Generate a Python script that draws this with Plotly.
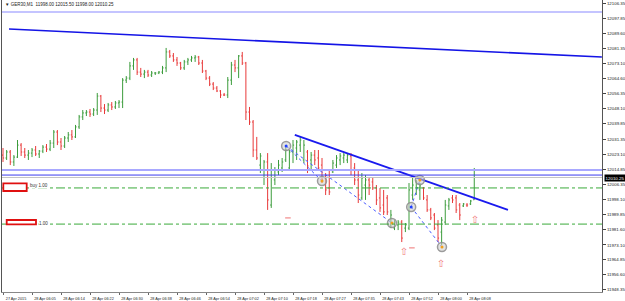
import plotly.graph_objects as go

# ---------------- data ----------------
title_text = "▼ GER30,M1  11998.00 12015.50 11998.00 12010.25"
last_price = 12010.25

tick_idx = [0, 8, 16, 24, 32, 40, 48, 56, 64, 72, 80, 88, 96, 104, 112, 120, 128]
tick_lbl = ["27 Apr 2015", "28 Apr 06:05", "28 Apr 06:14", "28 Apr 06:22", "28 Apr 06:30",
            "28 Apr 06:38", "28 Apr 06:46", "28 Apr 06:54", "28 Apr 07:02", "28 Apr 07:10",
            "28 Apr 07:18", "28 Apr 07:27", "28 Apr 07:35", "28 Apr 07:43", "28 Apr 07:52",
            "28 Apr 08:00", "28 Apr 08:08"]

price_ticks = [12106.35, 12097.85, 12089.60, 12081.35, 12073.10, 12064.60, 12056.35,
               12048.10, 12039.85, 12031.35, 12023.10, 12014.85, 12006.35, 11998.10,
               11989.85, 11981.60, 11973.10, 11964.85, 11956.60, 11948.35]

bar_open = [12022.6, 12021.0, 12024.3, 12018.8, 12021.5, 12028.1, 12024.3, 12022.6, 12023.7, 12025.4,
            12023.2, 12024.8, 12027.0, 12025.9, 12029.2, 12035.3, 12029.8, 12027.6, 12032.0, 12033.7,
            12032.6, 12038.1, 12043.6, 12045.8, 12046.3, 12045.2, 12047.4, 12055.1, 12048.5, 12047.4,
            12050.2, 12049.1, 12051.3, 12051.8, 12063.9, 12065.0, 12071.7, 12075.0, 12068.3, 12067.2,
            12068.3, 12066.7, 12067.8, 12067.8, 12068.3, 12070.6, 12079.4, 12077.2, 12075.0, 12073.3,
            12070.6, 12073.9, 12075.0, 12076.1, 12076.6, 12073.3, 12068.9, 12065.0, 12061.7, 12059.5,
            12057.9, 12055.7, 12055.7, 12063.9, 12072.2, 12070.6, 12077.2, 12073.3, 12046.3, 12040.8,
            12025.4, 12017.1, 12014.4, 12018.8, 11995.1, 12008.9, 12013.3, 12015.5, 12019.9, 12015.5,
            12024.3, 12026.5, 12028.1, 12019.9, 12024.3, 12019.9, 12022.6, 12021.0, 12017.1, 12010.0,
            12004.5, 12013.3, 12017.1, 12019.9, 12021.0, 12019.9, 12022.1, 12015.5, 12008.9, 11999.0,
            12006.1, 12008.9, 12007.8, 12004.5, 11999.0, 11995.1, 11999.0, 11984.1, 11982.4, 11984.1,
            11985.7, 11982.4, 11982.4, 12000.6, 12004.5, 12003.4, 12004.5, 11997.9, 11992.4, 11989.6,
            11984.1, 11980.2, 11985.7, 11994.6, 11999.0, 11999.0, 11995.1, 11994.6, 11995.1, 11995.7,
            11998.0]
bar_high = [12026.5, 12025.4, 12025.4, 12022.6, 12030.9, 12029.2, 12026.5, 12025.4, 12026.5, 12027.6,
            12025.4, 12028.1, 12028.7, 12030.9, 12036.4, 12036.4, 12032.0, 12033.1, 12035.3, 12036.4,
            12039.2, 12044.7, 12047.4, 12047.4, 12048.0, 12048.5, 12056.8, 12055.7, 12050.7, 12051.3,
            12051.8, 12052.4, 12052.9, 12065.0, 12066.1, 12073.9, 12076.1, 12076.1, 12070.6, 12069.5,
            12069.5, 12068.9, 12068.3, 12068.9, 12071.7, 12081.6, 12080.5, 12078.8, 12076.6, 12073.9,
            12075.0, 12076.1, 12077.2, 12077.7, 12077.2, 12075.0, 12069.5, 12066.1, 12062.8, 12060.6,
            12058.4, 12056.8, 12065.6, 12073.9, 12075.0, 12077.7, 12079.4, 12073.9, 12049.1, 12041.9,
            12032.6, 12023.7, 12019.9, 12023.7, 12018.2, 12016.0, 12019.9, 12021.0, 12027.0, 12025.4,
            12030.9, 12030.9, 12032.6, 12030.9, 12025.4, 12024.3, 12025.4, 12025.4, 12021.0, 12012.7,
            12014.4, 12019.9, 12022.6, 12023.7, 12023.7, 12023.7, 12023.7, 12018.2, 12014.4, 12012.7,
            12011.6, 12010.0, 12010.5, 12006.1, 12004.5, 12003.4, 12000.6, 11992.4, 11986.8, 11986.8,
            11986.8, 11985.2, 12007.2, 12010.0, 12008.9, 12007.2, 12005.0, 12000.6, 11993.5, 11990.7,
            11986.8, 11988.5, 11997.9, 11999.0, 12000.6, 12000.6, 11996.2, 11996.2, 11996.2, 11997.9,
            12015.5]
bar_low = [12018.8, 12019.9, 12017.1, 12016.6, 12021.0, 12022.1, 12021.0, 12019.9, 12021.5, 12022.1,
           12021.0, 12023.7, 12024.3, 12024.8, 12026.5, 12028.1, 12025.4, 12026.5, 12029.8, 12030.9,
           12032.0, 12037.0, 12041.9, 12044.1, 12043.6, 12044.1, 12044.7, 12046.3, 12045.2, 12046.3,
           12047.4, 12048.0, 12048.5, 12048.5, 12062.3, 12063.9, 12069.5, 12066.7, 12065.6, 12065.0,
           12065.6, 12065.6, 12066.7, 12067.2, 12067.2, 12068.3, 12076.1, 12073.9, 12071.7, 12069.5,
           12069.5, 12072.2, 12073.9, 12073.9, 12072.2, 12067.8, 12063.9, 12060.6, 12058.4, 12057.3,
           12054.0, 12055.1, 12054.0, 12061.2, 12068.3, 12065.0, 12072.2, 12041.9, 12039.2, 12021.5,
           12019.9, 12012.7, 12006.1, 11992.4, 11993.5, 12006.1, 12011.6, 12013.3, 12018.8, 12014.4,
           12018.2, 12019.9, 12024.3, 12018.2, 12012.7, 12014.4, 12017.1, 12014.4, 12007.2, 12000.6,
           12000.6, 12012.7, 12015.5, 12017.1, 12018.2, 12018.2, 12011.6, 12006.1, 11996.2, 11997.9,
           11997.9, 12000.6, 12003.4, 11995.1, 11991.3, 11989.6, 11989.6, 11982.4, 11981.3, 11981.3,
           11974.7, 11980.2, 11981.3, 11997.9, 12000.6, 11997.9, 11997.9, 11991.3, 11986.8, 11981.3,
           11974.7, 11973.1, 11984.1, 11992.4, 11996.2, 11990.7, 11986.8, 11994.0, 11994.0, 11995.1,
           11998.0]
bar_close = [12021.0, 12024.3, 12018.8, 12021.5, 12028.1, 12024.3, 12022.6, 12023.7, 12025.4, 12023.2,
             12024.8, 12027.0, 12025.9, 12029.2, 12035.3, 12029.8, 12027.6, 12032.0, 12033.7, 12032.6,
             12038.1, 12043.6, 12045.8, 12046.3, 12045.2, 12047.4, 12055.1, 12048.5, 12047.4, 12050.2,
             12049.1, 12051.3, 12051.8, 12063.9, 12065.0, 12071.7, 12075.0, 12068.3, 12067.2, 12068.3,
             12066.7, 12067.8, 12067.8, 12068.3, 12070.6, 12079.4, 12077.2, 12075.0, 12073.3, 12070.6,
             12073.9, 12075.0, 12076.1, 12076.6, 12073.3, 12068.9, 12065.0, 12061.7, 12059.5, 12057.9,
             12055.7, 12055.7, 12063.9, 12072.2, 12070.6, 12077.2, 12073.3, 12046.3, 12040.8, 12025.4,
             12021.0, 12022.1, 12018.8, 11997.9, 12014.4, 12014.4, 12017.1, 12018.8, 12025.4, 12024.3,
             12028.1, 12029.8, 12030.9, 12028.1, 12016.6, 12022.6, 12019.9, 12015.5, 12008.9, 12003.4,
             12002.3, 12018.2, 12021.0, 12022.1, 12022.6, 12022.6, 12014.4, 12008.9, 12000.6, 12010.0,
             12008.9, 12006.1, 12004.5, 11997.9, 11993.5, 11991.3, 11991.3, 11989.6, 11985.7, 11985.7,
             11976.9, 11984.1, 12003.4, 12006.1, 12007.8, 12005.6, 11999.0, 11992.4, 11988.0, 11982.4,
             11976.9, 11986.8, 11995.1, 11997.9, 11997.9, 11992.4, 11989.6, 11995.7, 11995.1, 11997.3,
             12010.25]
bar_idx = list(range(len(bar_close)))

# horizontal levels
top_level = 12101.4
level_light = 12014.4
level_blue = 12011.6
order_levels = [12004.5, 11984.6]
order_texts = ["buy 1.00", "1.00"]

# trend lines (bar index, price)
trend1_x = [1.66, 165.2]
trend1_y = [12092.0, 12076.6]
trend2_x = [80.5, 139.3]
trend2_y = [12033.7, 11992.4]

# trades: open points and close points
open_x = [78.1, 112.6]
open_y = [12027.6, 11994.0]
close_x = [88.0, 107.3, 115.0, 121.1]
close_y = [12008.3, 11985.2, 12008.9, 11972.0]
link_from = [0, 0, 1, 1]
link_to = [0, 1, 2, 3]

dash_x = [78.6, 112.8]
dash_y = [11988.0, 11971.5]
arrow_x = [110.6, 120.8, 130.2]
arrow_y = [11969.2, 11962.1, 11986.5]

# ---------------- layout geometry ----------------
W, H = 625, 301
L, R, T, B = 2, 23, 0, 9
PW, PH = W - L - R, H - T - B
X_RANGE = [-0.276, 165.24]
Y_RANGE = [11947.2, 12108.0]


def px(x):
    return (x - L) / PW


def py(y):
    return (T + PH - y) / PH


GREEN = "#3c9c3c"
RED = "#e83a3a"

fig = go.Figure()

# order lines (green dash-dot)
for lv in order_levels:
    fig.add_shape(type="line", xref="paper", yref="y", x0=0, x1=1, y0=lv, y1=lv,
                  line=dict(color="#3aaa3a", width=1, dash="dashdot"))
# horizontal lines
fig.add_shape(type="line", xref="paper", yref="y", x0=0, x1=1, y0=top_level, y1=top_level,
              line=dict(color="#8a8aff", width=1.2))
fig.add_shape(type="line", xref="paper", yref="y", x0=0, x1=1, y0=level_light, y1=level_light,
              line=dict(color="#a8a8ff", width=2))
fig.add_shape(type="line", xref="paper", yref="y", x0=0, x1=1, y0=level_blue, y1=level_blue,
              line=dict(color="#3a3aee", width=1))
fig.add_shape(type="line", xref="paper", yref="y", x0=0, x1=1, y0=last_price, y1=last_price,
              line=dict(color="#c4c4c4", width=1))

fig.add_trace(go.Ohlc(x=bar_idx, open=bar_open, high=bar_high, low=bar_low, close=bar_close,
                      increasing=dict(line=dict(color=GREEN, width=1)),
                      decreasing=dict(line=dict(color=RED, width=1)),
                      tickwidth=0.3, hoverinfo="skip", showlegend=False))

# trend lines
fig.add_trace(go.Scatter(x=trend1_x, y=trend1_y, mode="lines",
                         line=dict(color="#1414e6", width=1.6), hoverinfo="skip", showlegend=False))
fig.add_trace(go.Scatter(x=trend2_x, y=trend2_y, mode="lines",
                         line=dict(color="#1a1aee", width=1.8), hoverinfo="skip", showlegend=False))

# dotted trade links
for a, b in zip(link_from, link_to):
    fig.add_trace(go.Scatter(x=[open_x[a], close_x[b]], y=[open_y[a], close_y[b]], mode="lines",
                             line=dict(color="#4a5cff", width=1, dash="dot"),
                             hoverinfo="skip", showlegend=False))

# circles
all_cx = open_x + close_x
all_cy = open_y + close_y
fig.add_trace(go.Scatter(x=all_cx, y=all_cy, mode="markers",
                         marker=dict(symbol="circle", size=9, color="rgba(205,205,205,0.55)",
                                     line=dict(color="rgba(140,140,140,0.85)", width=1.5)),
                         hoverinfo="skip", showlegend=False))
fig.add_trace(go.Scatter(x=open_x, y=open_y, mode="markers",
                         marker=dict(symbol="circle", size=3, color="#2040ff"),
                         hoverinfo="skip", showlegend=False))
fig.add_trace(go.Scatter(x=close_x, y=close_y, mode="markers",
                         marker=dict(symbol="circle", size=3, color="#f0a020"),
                         hoverinfo="skip", showlegend=False))

# red dashes
fig.add_trace(go.Scatter(x=dash_x, y=dash_y, mode="markers",
                         marker=dict(symbol="line-ew", size=4, line=dict(color="#f28a8a", width=1.2)),
                         hoverinfo="skip", showlegend=False))
# up arrows
fig.add_trace(go.Scatter(x=arrow_x, y=arrow_y, mode="text", text=["⇧"] * len(arrow_x),
                         textfont=dict(family="DejaVu Sans", size=10, color="#f07a7a"),
                         hoverinfo="skip", showlegend=False))

# covering rectangles (white with red border)
fig.add_shape(type="rect", xref="paper", yref="paper", x0=px(3.3), x1=px(26.7), y0=py(191), y1=py(183.3),
              line=dict(color="#e01010", width=1.8), fillcolor="white")
fig.add_shape(type="rect", xref="paper", yref="paper", x0=px(6.7), x1=px(36), y0=py(224.3), y1=py(220),
              line=dict(color="#e01010", width=1.8), fillcolor="white")

annotations = []
annotations.append(dict(xref="paper", yref="y", x=px(29), y=order_levels[0], yshift=2,
                        text=order_texts[0], showarrow=False, xanchor="left", yanchor="middle",
                        font=dict(family="Liberation Sans", size=4.5, color="#333"),
                        bgcolor="white", borderpad=0))
annotations.append(dict(xref="paper", yref="y", x=px(37.5), y=order_levels[1], yshift=1,
                        text=order_texts[1], showarrow=False, xanchor="left", yanchor="middle",
                        font=dict(family="Liberation Sans", size=4.5, color="#333"),
                        bgcolor="white", borderpad=0))
annotations.append(dict(xref="paper", yref="paper", x=px(2.5), y=py(5), text=title_text,
                        showarrow=False, xanchor="left", yanchor="middle",
                        font=dict(family="Liberation Sans", size=4.5, color="#222")))
annotations.append(dict(xref="paper", yref="y", x=1, y=last_price, xshift=2,
                        text=f"{last_price:.2f}", showarrow=False, xanchor="left", yanchor="middle",
                        font=dict(family="Liberation Sans", size=4.4, color="white"),
                        bgcolor="black", borderpad=0.6))

fig.update_layout(
    width=W, height=H, margin=dict(l=L, r=R, t=T, b=B, pad=0),
    paper_bgcolor="white", plot_bgcolor="white", showlegend=False,
    annotations=annotations,
    xaxis=dict(range=X_RANGE, tickvals=tick_idx, ticktext=tick_lbl, ticks="outside",
               ticklen=2, tickcolor="#666", showline=True, linecolor="#888", linewidth=1,
               mirror=True, showgrid=False, zeroline=False, rangeslider=dict(visible=False),
               tickfont=dict(family="Liberation Sans", size=3.8, color="#222"),
               ticklabelshift=13, ticklabelstandoff=0, fixedrange=True),
    yaxis=dict(range=Y_RANGE, side="right", tickvals=price_ticks,
               ticktext=[f"{v:.2f}" for v in price_ticks], ticks="outside", ticklen=3,
               tickcolor="#444", showline=True, linecolor="#555", linewidth=1, mirror=True,
               showgrid=False, zeroline=False,
               tickfont=dict(family="Liberation Sans", size=4.4, color="#222"), fixedrange=True),
)

fig.write_html("out.html")
